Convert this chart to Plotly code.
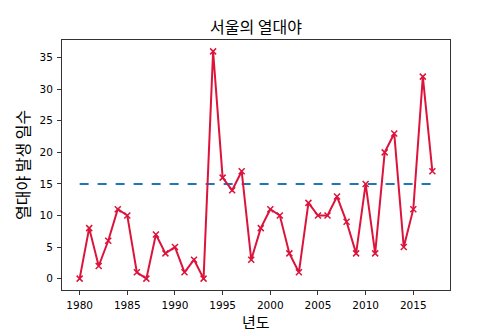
import plotly.graph_objects as go

years = list(range(1980, 2018))
nights = [0, 8, 2, 6, 11, 10, 1, 0, 7, 4, 5, 1, 3, 0, 36, 16, 14, 17, 3, 8,
          11, 10, 4, 1, 12, 10, 10, 13, 9, 4, 15, 4, 20, 23, 5, 11, 32, 17]
ref_level = 15
x_ticks = [1980, 1985, 1990, 1995, 2000, 2005, 2010, 2015]
y_ticks = [0, 5, 10, 15, 20, 25, 30, 35]

fig = go.Figure()
fig.add_trace(go.Scatter(
    x=[years[0], years[-1]], y=[ref_level, ref_level], mode="lines",
    line=dict(color="#1f77b4", width=2, dash="dash"), showlegend=False))
fig.add_trace(go.Scatter(
    x=years, y=nights, mode="lines+markers",
    line=dict(color="#DC143C", width=2),
    marker=dict(symbol="x-thin", size=6, color="#DC143C",
                line=dict(color="#DC143C", width=1.5)),
    showlegend=False))

axis_common = dict(showline=True, linecolor="#333333", linewidth=1, mirror=True,
                   ticks="outside", ticklen=4, tickcolor="#333333",
                   showgrid=False, zeroline=False, automargin=False,
                   tickfont=dict(family="DejaVu Sans", size=10.5, color="black"))
label_font = dict(family="Noto Sans CJK KR", size=16, color="black")
xlabel_font = dict(family="Noto Sans CJK KR", size=15, color="black")
fig.update_layout(
    width=500, height=333,
    margin=dict(l=62, r=50, t=40, b=43, autoexpand=False),
    paper_bgcolor="white", plot_bgcolor="white",
    title=dict(text="서울의 열대야", x=0.512, xanchor="center", y=0.918, yanchor="middle",
               automargin=False, font=label_font),
    xaxis=dict(range=[1978.15, 2018.85], tickvals=x_ticks, ticklabelstandoff=1,
               **axis_common),
    yaxis=dict(range=[-1.8, 37.8], tickvals=y_ticks, ticklabelstandoff=2,
               **axis_common),
    annotations=[
        dict(text="년도", xref="paper", yref="paper", x=0.5, y=0,
             xanchor="center", yanchor="middle", yshift=-31, showarrow=False,
             font=xlabel_font),
        dict(text="열대야 발생 일수", xref="paper", yref="paper", x=0, y=0.5,
             xanchor="center", yanchor="middle", xshift=-40, textangle=-90,
             showarrow=False, font=label_font),
    ],
)
fig.write_html("out.html")
